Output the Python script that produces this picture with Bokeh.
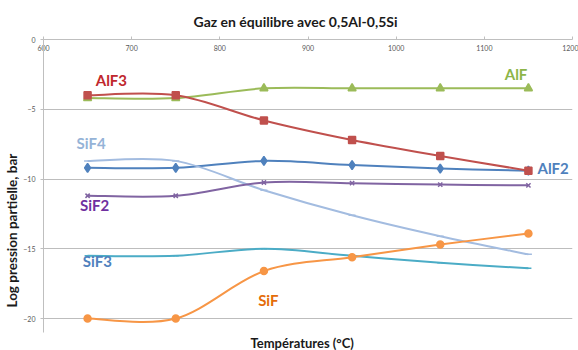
from bokeh.plotting import figure
from bokeh.models import ColumnDataSource, FixedTicker, Range1d, Label, Title
from bokeh.embed import file_html
from bokeh.resources import INLINE

# ---- data ----
temps = [650, 750, 850, 950, 1050, 1150]
alf3 = [-4.0, -4.0, -5.8, -7.2, -8.35, -9.4]
alf = [-4.2, -4.2, -3.5, -3.5, -3.5, -3.5]
alf2 = [-9.2, -9.2, -8.7, -9.0, -9.25, -9.4]
sif4 = [-8.7, -8.7, -10.8, -12.6, -14.1, -15.4]
sif2 = [-11.2, -11.2, -10.25, -10.3, -10.4, -10.45]
sif3 = [-15.5, -15.5, -15.0, -15.5, -16.0, -16.4]
sif = [-20.0, -20.0, -16.6, -15.6, -14.7, -13.9]

x_ticks = [600, 700, 800, 900, 1000, 1100, 1200]
y_ticks = [0, -5, -10, -15, -20]

title_text = "Gaz  en équilibre avec 0,5Al-0,5Si"
x_title = "Températures (°C)"
y_title = "Log pression partielle, bar"

FONT = "Lato"

p = figure(width=578, height=350, output_backend="svg", toolbar_location=None,
           x_range=Range1d(600, 1200), y_range=Range1d(-21, 0),
           x_axis_location="above",
           min_border_left=43, min_border_right=6, min_border_top=37,
           min_border_bottom=15)
p.outline_line_color = None
p.background_fill_color = "white"

p.title.text = title_text
p.title.align = "left"
p.title.offset = 150
p.title.standoff = 20
p.title.text_font = FONT
p.title.text_font_size = "14px"
p.title.text_font_style = "bold"
p.title.text_color = "#1A1A1A"

p.add_layout(Title(text=x_title, align="left", offset=207, text_font=FONT,
                   text_font_size="13px", text_font_style="bold",
                   text_color="#1A1A1A", standoff=0), "below")
p.add_layout(Title(text=y_title, align="left", offset=25, text_font=FONT,
                   text_font_size="13.5px", text_font_style="bold",
                   text_color="#1A1A1A", standoff=2), "left")

# x axis at the top, labels drawn just below its line
p.xaxis.ticker = FixedTicker(ticks=x_ticks)
p.xaxis.major_tick_in = 0
p.xaxis.major_tick_out = 3
p.xaxis.minor_tick_line_color = None
p.xaxis.axis_line_color = "#BFBFBF"
p.xaxis.major_tick_line_color = "#BFBFBF"
p.xaxis.major_label_text_font_size = "7px"
p.xaxis.major_label_text_color = "#595959"
p.xaxis.major_label_text_font = FONT
p.xaxis.major_label_standoff = -14

p.yaxis.ticker = FixedTicker(ticks=y_ticks)
p.yaxis.major_tick_in = 0
p.yaxis.major_tick_out = 3
p.yaxis.minor_tick_line_color = None
p.yaxis.axis_line_color = "#BFBFBF"
p.yaxis.major_tick_line_color = "#BFBFBF"
p.yaxis.major_label_text_font_size = "7px"
p.yaxis.major_label_text_color = "#595959"
p.yaxis.major_label_text_font = FONT
p.yaxis.major_label_standoff = 5

p.xgrid.grid_line_color = None
p.ygrid.ticker = FixedTicker(ticks=[-5, -10, -15, -20])
p.ygrid.grid_line_color = "#BDBDBD"
p.ygrid.grid_line_width = 1


def smooth(xs, ys):
    """Bezier segments (Catmull-Rom style, like Excel smoothed lines)."""
    n = len(xs)
    d = dict(x0=[], y0=[], x1=[], y1=[], cx0=[], cy0=[], cx1=[], cy1=[])
    for i in range(n - 1):
        xp, yp = (xs[i - 1], ys[i - 1]) if i > 0 else (xs[i], ys[i])
        xn, yn = (xs[i + 2], ys[i + 2]) if i + 2 < n else (xs[i + 1], ys[i + 1])
        d["x0"].append(xs[i]); d["y0"].append(ys[i])
        d["x1"].append(xs[i + 1]); d["y1"].append(ys[i + 1])
        d["cx0"].append(xs[i] + (xs[i + 1] - xp) / 6)
        d["cy0"].append(ys[i] + (ys[i + 1] - yp) / 6)
        d["cx1"].append(xs[i + 1] - (xn - xs[i]) / 6)
        d["cy1"].append(ys[i + 1] - (yn - ys[i]) / 6)
    return ColumnDataSource(d)


series = [
    (alf, "#9BBB59", "triangle", 8),
    (alf2, "#4F81BD", "diamond", 9),
    (alf3, "#C0504D", "square", 7),
    (sif4, "#A3BCE0", "dash", 7),
    (sif2, "#8064A2", "x", 6),
    (sif3, "#4BACC6", "dash", 6),
    (sif, "#F79646", "circle", 7),
]

for ys, col, mk, sz in series:
    src = smooth(temps, ys)
    p.bezier(x0="x0", y0="y0", x1="x1", y1="y1", cx0="cx0", cy0="cy0",
             cx1="cx1", cy1="cy1", source=src, line_color=col, line_width=2)
    p.scatter(temps, ys, marker=mk, size=sz, fill_color=col, line_color=col,
              line_width=1.5)

labels = [
    ("AlF3", 677, -2.93, "#C0282D"),
    ("AlF", 1136, -2.44, "#8DB548"),
    ("AlF2", 1178, -9.22, "#4F81BD"),
    ("SiF4", 654, -7.42, "#95B3D7"),
    ("SiF2", 658, -11.83, "#7030A0"),
    ("SiF3", 661, -15.85, "#4F81BD"),
    ("SiF", 855, -18.68, "#E46C0A"),
]
for txt, lx, ly, col in labels:
    p.add_layout(Label(x=lx, y=ly, text=txt, text_color=col, text_font=FONT,
                       text_font_style="bold", text_font_size="15px",
                       text_align="center", text_baseline="middle"))

open("out.html", "w").write(file_html(p, INLINE))
